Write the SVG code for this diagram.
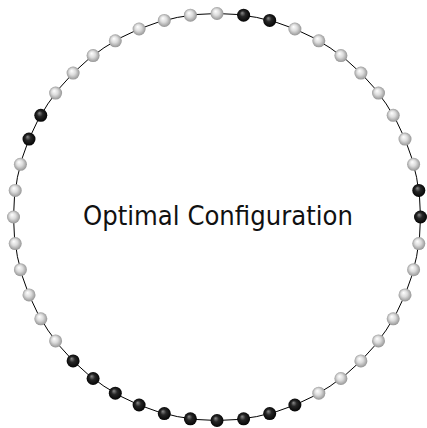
<svg xmlns="http://www.w3.org/2000/svg" width="427" height="428" viewBox="0 0 427 428">
<style>
.ring{fill:none;stroke:#000;stroke-width:1}
.w{fill:url(#gw)}
.b{fill:url(#gb)}
.lbl{font-family:"DejaVu Sans","Liberation Sans",sans-serif;font-size:27px;fill:#111}
</style>
<defs>
<radialGradient id="gw" cx="0.5" cy="0.5" r="0.55" fx="0.38" fy="0.32">
<stop offset="0" stop-color="#ffffff"/>
<stop offset="0.45" stop-color="#dcdcdc"/>
<stop offset="1" stop-color="#8c8c8c"/>
</radialGradient>
<radialGradient id="gb" cx="0.5" cy="0.5" r="0.55" fx="0.38" fy="0.32">
<stop offset="0" stop-color="#8a8a8a"/>
<stop offset="0.4" stop-color="#262626"/>
<stop offset="1" stop-color="#000000"/>
</radialGradient>
</defs>
<g id="connectors">
<circle class="ring" cx="217" cy="217" r="203.5"/>
</g>
<g id="label"><text class="lbl" x="218" y="224.5" text-anchor="middle" textLength="270" lengthAdjust="spacingAndGlyphs">Optimal Configuration</text></g>
<g id="n0"><circle class="b" cx="420.5" cy="217" r="6.5"/></g>
<g id="n1"><circle class="b" cx="418.8" cy="190.4" r="6.5"/></g>
<g id="n2"><circle class="w" cx="413.6" cy="164.3" r="6.5"/></g>
<g id="n3"><circle class="w" cx="405" cy="139.1" r="6.5"/></g>
<g id="n4"><circle class="w" cx="393.2" cy="115.3" r="6.5"/></g>
<g id="n5"><circle class="w" cx="378.5" cy="93.1" r="6.5"/></g>
<g id="n6"><circle class="w" cx="360.9" cy="73.1" r="6.5"/></g>
<g id="n7"><circle class="w" cx="340.9" cy="55.6" r="6.5"/></g>
<g id="n8"><circle class="w" cx="318.8" cy="40.8" r="6.5"/></g>
<g id="n9"><circle class="w" cx="294.9" cy="29" r="6.5"/></g>
<g id="n10"><circle class="b" cx="269.7" cy="20.4" r="6.5"/></g>
<g id="n11"><circle class="b" cx="243.6" cy="15.2" r="6.5"/></g>
<g id="n12"><circle class="w" cx="217" cy="13.5" r="6.5"/></g>
<g id="n13"><circle class="w" cx="190.4" cy="15.2" r="6.5"/></g>
<g id="n14"><circle class="w" cx="164.3" cy="20.4" r="6.5"/></g>
<g id="n15"><circle class="w" cx="139.1" cy="29" r="6.5"/></g>
<g id="n16"><circle class="w" cx="115.3" cy="40.8" r="6.5"/></g>
<g id="n17"><circle class="w" cx="93.1" cy="55.6" r="6.5"/></g>
<g id="n18"><circle class="w" cx="73.1" cy="73.1" r="6.5"/></g>
<g id="n19"><circle class="w" cx="55.6" cy="93.1" r="6.5"/></g>
<g id="n20"><circle class="b" cx="40.8" cy="115.3" r="6.5"/></g>
<g id="n21"><circle class="b" cx="29" cy="139.1" r="6.5"/></g>
<g id="n22"><circle class="w" cx="20.4" cy="164.3" r="6.5"/></g>
<g id="n23"><circle class="w" cx="15.2" cy="190.4" r="6.5"/></g>
<g id="n24"><circle class="w" cx="13.5" cy="217" r="6.5"/></g>
<g id="n25"><circle class="w" cx="15.2" cy="243.6" r="6.5"/></g>
<g id="n26"><circle class="w" cx="20.4" cy="269.7" r="6.5"/></g>
<g id="n27"><circle class="w" cx="29" cy="294.9" r="6.5"/></g>
<g id="n28"><circle class="w" cx="40.8" cy="318.8" r="6.5"/></g>
<g id="n29"><circle class="w" cx="55.6" cy="340.9" r="6.5"/></g>
<g id="n30"><circle class="b" cx="73.1" cy="360.9" r="6.5"/></g>
<g id="n31"><circle class="b" cx="93.1" cy="378.5" r="6.5"/></g>
<g id="n32"><circle class="b" cx="115.3" cy="393.2" r="6.5"/></g>
<g id="n33"><circle class="b" cx="139.1" cy="405" r="6.5"/></g>
<g id="n34"><circle class="b" cx="164.3" cy="413.6" r="6.5"/></g>
<g id="n35"><circle class="b" cx="190.4" cy="418.8" r="6.5"/></g>
<g id="n36"><circle class="b" cx="217" cy="420.5" r="6.5"/></g>
<g id="n37"><circle class="b" cx="243.6" cy="418.8" r="6.5"/></g>
<g id="n38"><circle class="b" cx="269.7" cy="413.6" r="6.5"/></g>
<g id="n39"><circle class="b" cx="294.9" cy="405" r="6.5"/></g>
<g id="n40"><circle class="w" cx="318.8" cy="393.2" r="6.5"/></g>
<g id="n41"><circle class="w" cx="340.9" cy="378.5" r="6.5"/></g>
<g id="n42"><circle class="w" cx="360.9" cy="360.9" r="6.5"/></g>
<g id="n43"><circle class="w" cx="378.5" cy="340.9" r="6.5"/></g>
<g id="n44"><circle class="w" cx="393.2" cy="318.8" r="6.5"/></g>
<g id="n45"><circle class="w" cx="405" cy="294.9" r="6.5"/></g>
<g id="n46"><circle class="w" cx="413.6" cy="269.7" r="6.5"/></g>
<g id="n47"><circle class="w" cx="418.8" cy="243.6" r="6.5"/></g>
</svg>
